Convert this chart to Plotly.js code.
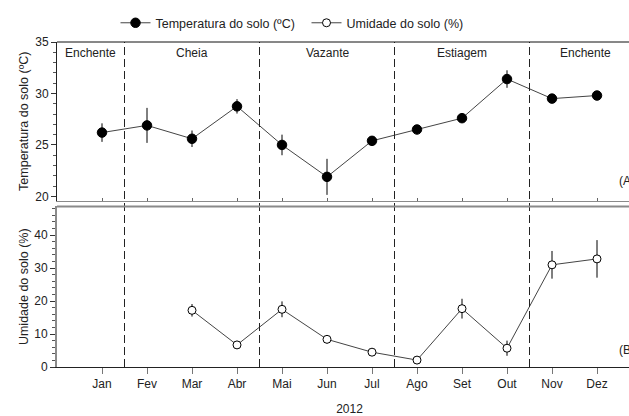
<!DOCTYPE html>
<html>
<head>
<meta charset="utf-8">
<script src="https://cdn.plot.ly/plotly-3.0.1.min.js"></script>
<style>
html,body{margin:0;padding:0;overflow:hidden;background:#fff;width:629px;height:416px;}
#chart{width:650px;height:416px;}
</style>
</head>
<body>
<div id="chart"></div>
<script>
const months = ['Jan','Fev','Mar','Abr','Mai','Jun','Jul','Ago','Set','Out','Nov','Dez'];
const monthPos = [1,2,3,4,5,6,7,8,9,10,11,12];
const tempValues = [26.2, 26.9, 25.6, 28.75, 25.0, 21.9, 25.4, 26.5, 27.6, 31.4, 29.5, 29.8];
const tempErrors = [0.9, 1.7, 0.8, 0.7, 1.0, 1.75, 0.2, 0.3, 0.2, 0.85, 0.2, 0.4];
const umidValues = [null, null, 17.2, 6.7, 17.5, 8.4, 4.5, 2.1, 17.7, 5.7, 31.0, 32.8];
const umidErrors = [0, 0, 1.9, 0.5, 2.4, 1.2, 0.5, 0.5, 3.0, 2.3, 4.2, 5.7];
const seasons = ['Enchente','Cheia','Vazante','Estiagem','Enchente'];
const seasonBounds = [0, 1.5, 4.5, 7.5, 10.5, 13];

const FONT = 'Liberation Sans, Arial, sans-serif';
const NARROW = 'Liberation Sans Narrow, Arial Narrow, Liberation Sans, sans-serif';

const traces = [
  {
    x: monthPos, y: tempValues, xaxis: 'x', yaxis: 'y',
    name: 'Temperatura do solo (ºC)', type: 'scatter', mode: 'lines+markers',
    line: {color: '#444', width: 1},
    marker: {color: '#000', size: 9.5, line: {color: '#000', width: 1}},
    error_y: {type: 'data', array: tempErrors, visible: true, color: '#000', thickness: 1, width: 0}
  },
  {
    x: monthPos, y: umidValues, xaxis: 'x2', yaxis: 'y2',
    name: 'Umidade do solo (%)', type: 'scatter', mode: 'lines+markers',
    line: {color: '#444', width: 1},
    marker: {color: '#fff', size: 8, line: {color: '#000', width: 1}},
    error_y: {type: 'data', array: umidErrors, visible: true, color: '#000', thickness: 1, width: 0}
  }
];

const shapes = [];
for (let i = 1; i < seasonBounds.length - 1; i++) {
  shapes.push({type: 'line', xref: 'x', yref: 'paper', x0: seasonBounds[i], x1: seasonBounds[i], y0: 0, y1: 1,
    line: {color: '#222', width: 1, dash: '8px,4px'}});
}
shapes.push({type: 'line', xref: 'paper', yref: 'paper', x0: 0, x1: 1, y0: 1, y1: 1, line: {color: '#111', width: 1}});
shapes.push({type: 'line', xref: 'paper', yref: 'y2 domain', x0: 0, x1: 1, y0: 1, y1: 1, line: {color: '#8a8a8a', width: 2}});

const annotations = [];
for (let i = 0; i < seasons.length; i++) {
  annotations.push({xref: 'x', yref: 'y', x: (seasonBounds[i] + seasonBounds[i+1]) / 2, y: 33.9,
    text: seasons[i], showarrow: false, font: {family: FONT, size: 12, color: '#222'}});
}
annotations.push({xref: 'paper', yref: 'y', x: 0.957, y: 21.45, xanchor: 'left', text: '(A)', showarrow: false,
  font: {family: FONT, size: 12, color: '#222'}});
annotations.push({xref: 'paper', yref: 'y2', x: 0.957, y: 5.2, xanchor: 'left', text: '(B)', showarrow: false,
  font: {family: FONT, size: 12, color: '#222'}});

const layout = {
  width: 650, height: 416,
  margin: {l: 57, r: 8, t: 39, b: 49},
  paper_bgcolor: '#fff', plot_bgcolor: '#fff',
  font: {family: FONT, size: 12, color: '#222'},
  showlegend: true,
  legend: {orientation: 'h', x: 0.1, y: 1.058, xanchor: 'left', yanchor: 'middle',
    font: {family: NARROW, size: 12.5, color: '#222'}, entrywidth: 146, entrywidthmode: 'pixels',
    itemwidth: 30, bgcolor: 'rgba(0,0,0,0)'},
  xaxis: {domain: [0, 1], anchor: 'y', range: [0, 13], showgrid: false, zeroline: false,
    showline: true, linecolor: '#8a8a8a', linewidth: 1.5,
    tickvals: monthPos, ticks: 'inside', ticklen: 3, tickcolor: '#666', showticklabels: false},
  yaxis: {domain: [0.5122, 1], anchor: 'x', range: [19.6, 35], showgrid: false, zeroline: false,
    showline: true, linecolor: '#222', linewidth: 1,
    tickvals: [20, 25, 30, 35], ticks: 'outside', ticklen: 5, tickcolor: '#333',
    minor: {dtick: 1, ticks: 'outside', ticklen: 3, tickcolor: '#555'},
    tickfont: {family: FONT, size: 12, color: '#222'},
    title: {text: 'Temperatura do solo (ºC)', font: {family: FONT, size: 12.5, color: '#222'}, standoff: 3}},
  xaxis2: {domain: [0, 1], anchor: 'y2', range: [0, 13], showgrid: false, zeroline: false,
    showline: true, linecolor: '#222', linewidth: 1,
    tickvals: monthPos, ticktext: months, ticks: 'outside', ticklen: 6, tickcolor: '#777',
    tickfont: {family: FONT, size: 12, color: '#222'},
    title: {text: '2012', font: {family: FONT, size: 12, color: '#222'}, standoff: 16}},
  yaxis2: {domain: [0, 0.4939], anchor: 'x2', range: [0, 48.7], showgrid: false, zeroline: false,
    showline: true, linecolor: '#8a8a8a', linewidth: 2,
    tickvals: [0, 10, 20, 30, 40], ticks: 'outside', ticklen: 5, tickcolor: '#333',
    minor: {dtick: 2, ticks: 'outside', ticklen: 3, tickcolor: '#555'},
    tickfont: {family: FONT, size: 12, color: '#222'},
    title: {text: 'Umidade do solo (%)', font: {family: FONT, size: 12.5, color: '#222'}, standoff: 3}},
  shapes: shapes,
  annotations: annotations
};

Plotly.newPlot('chart', traces, layout, {displayModeBar: false, staticPlot: true});
</script>
</body>
</html>
